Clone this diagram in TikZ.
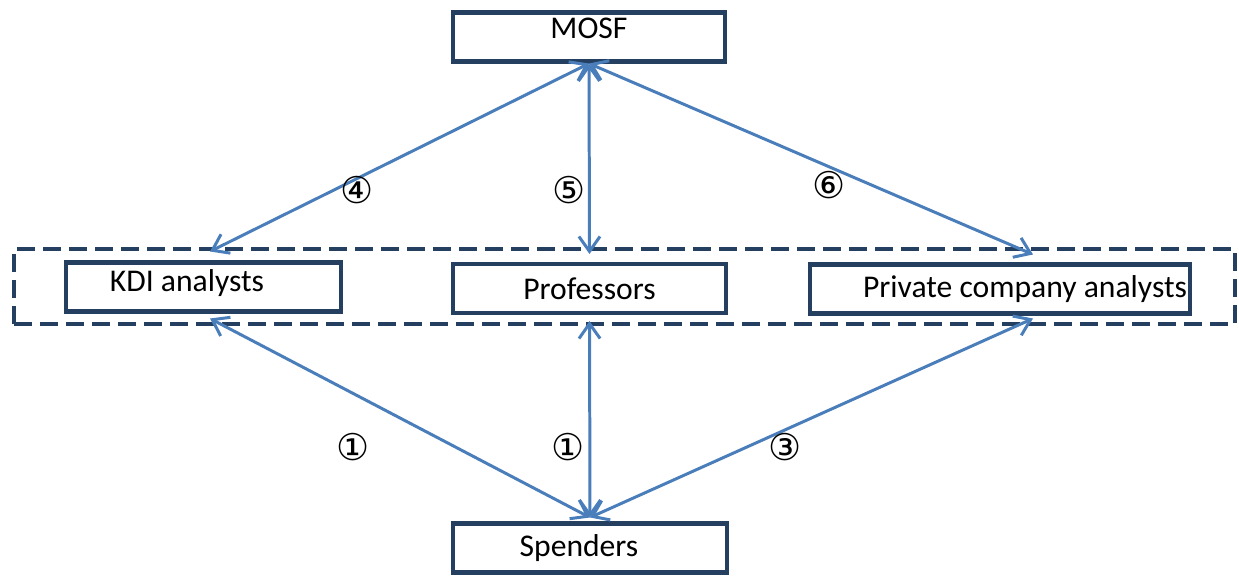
\documentclass[tikz,border=0pt]{standalone}
\usepackage{fontspec}
\setmainfont{Carlito}
\newfontfamily\symfont{DejaVu Sans}
\usetikzlibrary{arrows.meta,positioning}

\definecolor{boxblue}{RGB}{36,63,96}
\definecolor{linkblue}{RGB}{74,126,187}

\tikzset{
    actor/.style={draw=boxblue, line width=2.3pt, fill=white, inner sep=0pt,
        minimum height=0.98cm, font=\fontsize{18}{21}\selectfont},
    link/.style={{Straight Barb[length=8.5pt,width=12pt]}-{Straight Barb[length=8.5pt,width=12pt]},
        draw=linkblue, line width=1.7pt},
    num/.style={font=\symfont\fontsize{21}{21}\selectfont},
}

\begin{document}
\begin{tikzpicture}[x=0.02cm, y=-0.02cm]
\useasboundingbox (0,0) rectangle (1239,577);

% group of analysts
\node (grp) [draw=boxblue, line width=2.3pt, dash pattern=on 0.36cm off 0.16cm,
    minimum width=24.42cm, minimum height=1.5cm] at (624.5,286.5) {};

\node (mosf) [actor, minimum width=5.44cm] at (589,37) {\raisebox{0.36cm}{MOSF}};
\node (kdi) [actor, minimum width=5.5cm] at (203.5,287) {\raisebox{0.24cm}{KDI analysts}\hspace*{0.66cm}};
\node (prof) [actor, minimum width=5.46cm] at (589.5,288.5) {Professors};
\node (priv) [actor, minimum width=7.6cm] at (1000,289) {\hspace*{1cm}Private company analysts};
\node (spend) [actor, minimum width=5.48cm] at (590,548) {Spenders\hspace*{0.44cm}};

% links
\draw [link] (mosf.south) -- ([xshift=0.13cm,yshift=0.18cm]kdi.north);
\draw [link] (mosf.south) -- ([yshift=0.16cm]prof.north);
\draw [link] (mosf.south) -- ([xshift=0.66cm,yshift=0.16cm]priv.north);
\draw [link] ([yshift=0.08cm]spend.north) -- ([xshift=0.13cm,yshift=-0.1cm]kdi.south);
\draw [link] ([yshift=0.08cm]spend.north) -- ([yshift=-0.12cm]prof.south);
\draw [link] ([yshift=0.08cm]spend.north) -- ([xshift=0.66cm,yshift=-0.06cm]priv.south);

% numbers
\node (n4) [num] at (357,190) {④};
\node (n5) [num] at (569,190) {⑤};
\node (n6) [num] at (829,185) {⑥};
\node (n1a) [num] at (353,447) {①};
\node (n1b) [num] at (568,447) {①};
\node (n3) [num] at (785,447) {③};

\end{tikzpicture}
\end{document}
